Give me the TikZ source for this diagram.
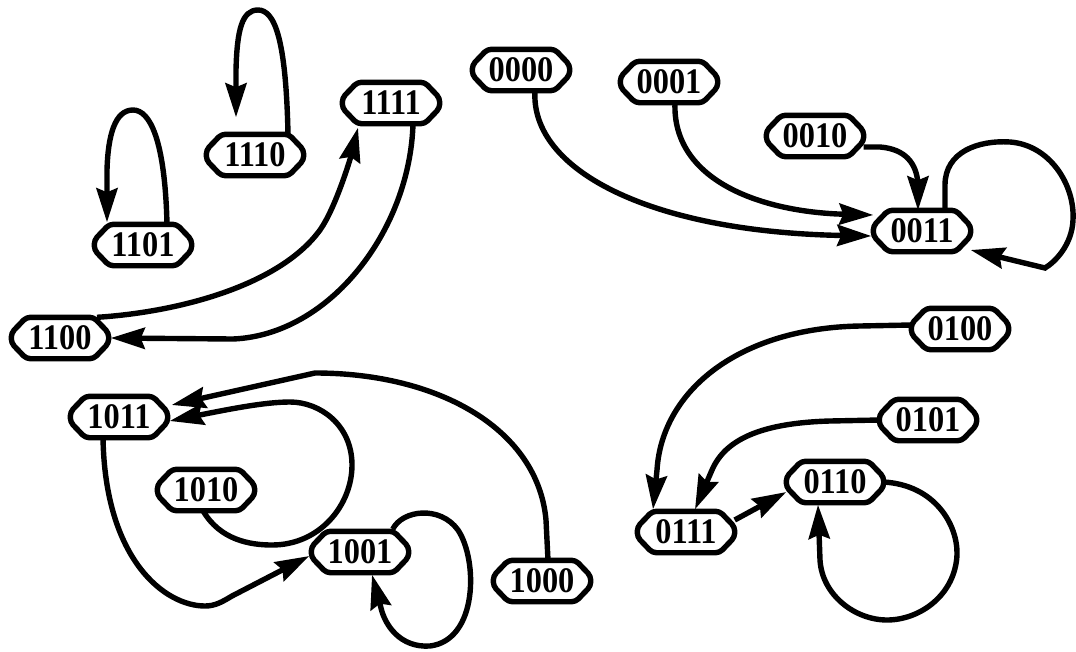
\documentclass[tikz,border=0pt]{standalone}
\usepackage{fontspec}
\setmainfont{Liberation Serif}
\newfontfamily\statefont[FakeStretch=0.9]{Liberation Serif}
\usetikzlibrary{arrows.meta}
\begin{document}
\begin{tikzpicture}[x=1pt,y=-1pt,
  st/.style={minimum width=97pt, minimum height=41pt, inner sep=0pt,
    font=\statefont\fontsize{36}{36}\selectfont\bfseries},
  octo/.style={line width=5.4pt, line join=round, rounded corners=4pt},
  edge/.style={line width=5.4pt, line cap=butt, -{Stealth[length=34pt,width=21pt,inset=4pt]}}]
\useasboundingbox (0,0) rectangle (1076,651);
% nodes
\node[st] (n1110) at (255,155) {1110};
\node[st] (n1101) at (143,245) {1101};
\node[st] (n1111) at (391,103) {1111};
\node[st] (n1100) at (60,338) {1100};
\node[st] (n0000) at (521,70) {0000};
\node[st] (n0001) at (669,82) {0001};
\node[st] (n0010) at (815,136) {0010};
\node[st] (n0011) at (922,231) {0011};
\node[st] (n0100) at (960,329) {0100};
\node[st] (n0101) at (928,420) {0101};
\node[st] (n0110) at (835,482) {0110};
\node[st] (n0111) at (686,532) {0111};
\node[st] (n1011) at (119,417) {1011};
\node[st] (n1010) at (206,490) {1010};
\node[st] (n1001) at (360,552) {1001};
\node[st] (n1000) at (542,581) {1000};
\foreach \n in {n1110,n1101,n1111,n1100,n0000,n0001,n0010,n0011,n0100,n0101,n0110,n0111,n1011,n1010,n1001,n1000}
  \draw[octo] ([xshift=15pt]\n.north west) -- ([xshift=-15pt]\n.north east)
     -- ([yshift=5pt]\n.east) -- ([yshift=-5pt]\n.east)
     -- ([xshift=-15pt]\n.south east) -- ([xshift=15pt]\n.south west)
     -- ([yshift=-5pt]\n.west) -- ([yshift=5pt]\n.west) -- cycle;
% edges
\draw[edge] ([xshift=33pt]n1110.north) .. controls (286,40) and (275,10) .. (258,10)
  .. controls (242,10) and (237,30) .. (236,70) -- ([xshift=-19pt,yshift=17pt]n1110.north);
\draw[edge] ([xshift=24pt]n1101.north) .. controls (165,140) and (150,110) .. (133,110)
  .. controls (115,110) and (108,135) .. (107,170) -- ([xshift=-36pt,yshift=2pt]n1101.north);
\draw[edge] ([xshift=37pt]n1100.north) .. controls (180,312) and (280,285) .. (320,230)
  .. controls (335,209) and (350,160) .. ([xshift=-33pt,yshift=-4pt]n1111.south);
\draw[edge] ([xshift=22pt]n1111.south) .. controls (410,230) and (330,335) .. (233,339)
  -- ([xshift=2pt]n1100.east);
\draw[edge] ([xshift=14pt]n0000.south) .. controls (530,170) and (650,232) .. ([xshift=-2pt,yshift=-5pt]n0011.west);
\draw[edge] ([xshift=6pt]n0001.south) .. controls (672,180) and (760,212) .. ([yshift=16pt]n0011.west);
\draw[edge] ([yshift=-11pt]n0010.east) -- (880,147) .. controls (905,149) and (917,163) .. (918,185)
  -- ([xshift=-4pt]n0011.north);
\draw[edge] ([xshift=23pt]n0011.north) -- (945,185) .. controls (945,152) and (978,140) .. (1010,142)
  .. controls (1050,145) and (1075,185) .. (1073,220) .. controls (1072,245) and (1055,262) .. (1045,268)
  -- ([yshift=-19pt]n0011.east);
\draw[edge] ([yshift=4pt]n0100.west) -- (860,326) .. controls (740,328) and (662,390) .. (657,470)
  -- ([xshift=-33pt,yshift=2pt]n0111.north);
\draw[edge] (n0101.west) -- (830,421) .. controls (760,423) and (725,440) .. (712,470)
  -- ([xshift=9pt,yshift=2pt]n0111.north);
\draw[edge] ([yshift=12pt]n0111.east) -- ([yshift=-10pt]n0110.west);
\draw[edge] (n0110.east) .. controls (935,485) and (958,525) .. (957,555)
  .. controls (955,595) and (920,620) .. (887,620) .. controls (855,620) and (822,595) .. (820,560)
  -- ([xshift=-17pt,yshift=-2pt]n0110.south);
\draw[edge] ([xshift=6pt]n1000.north) -- (546,520) .. controls (538,430) and (440,373) .. (315,373)
  -- ([xshift=4pt,yshift=12pt]n1011.east);
\draw[edge] ([xshift=-3pt]n1010.south) .. controls (220,540) and (250,545) .. (272,545)
  .. controls (320,545) and (352,505) .. (352,465) .. controls (352,425) and (320,402) .. (290,402)
  .. controls (265,402) and (230,409) .. ([xshift=2pt,yshift=-4pt]n1011.east);
\draw[edge] ([xshift=-16pt]n1011.south) .. controls (105,560) and (165,606) .. (205,606)
  .. controls (215,606) and (222,602) .. (232,596) -- ([xshift=-2pt,yshift=-4pt]n1001.west);
\draw[edge] ([xshift=-16pt,yshift=2pt]n1001.north east) .. controls (402,510) and (440,505) .. (458,530)
  .. controls (478,560) and (478,640) .. (430,646) .. controls (400,648) and (385,625) .. (381,608)
  -- ([xshift=12pt,yshift=-2pt]n1001.south);
\end{tikzpicture}
\end{document}
